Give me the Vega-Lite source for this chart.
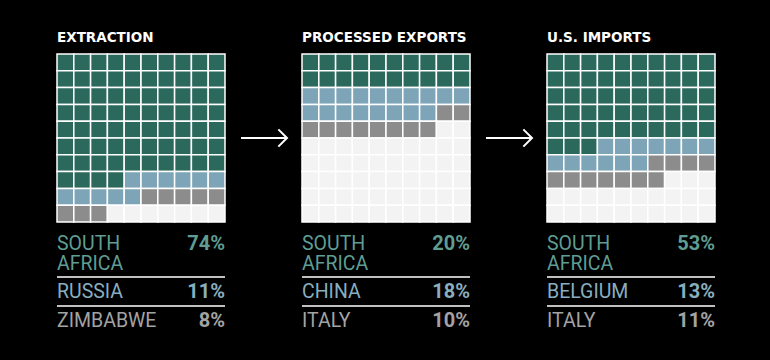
{
  "$schema": "https://vega.github.io/schema/vega-lite/v6.json",
  "background": "#000000",
  "padding": {"left": 56, "top": 30, "right": 56, "bottom": 26},
  "bounds": "flush",
  "datasets": {
    "panels": [
      {"p": 1, "title": "EXTRACTION"},
      {"p": 2, "title": "PROCESSED EXPORTS"},
      {"p": 3, "title": "U.S. IMPORTS"}
    ],
    "main": [
      {"p":1,"rank":1,"label":"SOUTH AFRICA","v":0.74,"g":1},
      {"p":1,"rank":2,"label":"RUSSIA","v":0.11,"g":2},
      {"p":1,"rank":3,"label":"ZIMBABWE","v":0.08,"g":3},
      {"p":2,"rank":1,"label":"SOUTH AFRICA","v":0.20,"g":1},
      {"p":2,"rank":2,"label":"CHINA","v":0.18,"g":2},
      {"p":2,"rank":3,"label":"ITALY","v":0.10,"g":3},
      {"p":3,"rank":1,"label":"SOUTH AFRICA","v":0.53,"g":1},
      {"p":3,"rank":2,"label":"BELGIUM","v":0.13,"g":2},
      {"p":3,"rank":3,"label":"ITALY","v":0.11,"g":3},
      {"p":1,"i":0,"g":1},{"p":1,"i":1,"g":1},{"p":1,"i":2,"g":1},{"p":1,"i":3,"g":1},{"p":1,"i":4,"g":1},{"p":1,"i":5,"g":1},{"p":1,"i":6,"g":1},{"p":1,"i":7,"g":1},{"p":1,"i":8,"g":1},{"p":1,"i":9,"g":1},
      {"p":1,"i":10,"g":1},{"p":1,"i":11,"g":1},{"p":1,"i":12,"g":1},{"p":1,"i":13,"g":1},{"p":1,"i":14,"g":1},{"p":1,"i":15,"g":1},{"p":1,"i":16,"g":1},{"p":1,"i":17,"g":1},{"p":1,"i":18,"g":1},{"p":1,"i":19,"g":1},
      {"p":1,"i":20,"g":1},{"p":1,"i":21,"g":1},{"p":1,"i":22,"g":1},{"p":1,"i":23,"g":1},{"p":1,"i":24,"g":1},{"p":1,"i":25,"g":1},{"p":1,"i":26,"g":1},{"p":1,"i":27,"g":1},{"p":1,"i":28,"g":1},{"p":1,"i":29,"g":1},
      {"p":1,"i":30,"g":1},{"p":1,"i":31,"g":1},{"p":1,"i":32,"g":1},{"p":1,"i":33,"g":1},{"p":1,"i":34,"g":1},{"p":1,"i":35,"g":1},{"p":1,"i":36,"g":1},{"p":1,"i":37,"g":1},{"p":1,"i":38,"g":1},{"p":1,"i":39,"g":1},
      {"p":1,"i":40,"g":1},{"p":1,"i":41,"g":1},{"p":1,"i":42,"g":1},{"p":1,"i":43,"g":1},{"p":1,"i":44,"g":1},{"p":1,"i":45,"g":1},{"p":1,"i":46,"g":1},{"p":1,"i":47,"g":1},{"p":1,"i":48,"g":1},{"p":1,"i":49,"g":1},
      {"p":1,"i":50,"g":1},{"p":1,"i":51,"g":1},{"p":1,"i":52,"g":1},{"p":1,"i":53,"g":1},{"p":1,"i":54,"g":1},{"p":1,"i":55,"g":1},{"p":1,"i":56,"g":1},{"p":1,"i":57,"g":1},{"p":1,"i":58,"g":1},{"p":1,"i":59,"g":1},
      {"p":1,"i":60,"g":1},{"p":1,"i":61,"g":1},{"p":1,"i":62,"g":1},{"p":1,"i":63,"g":1},{"p":1,"i":64,"g":1},{"p":1,"i":65,"g":1},{"p":1,"i":66,"g":1},{"p":1,"i":67,"g":1},{"p":1,"i":68,"g":1},{"p":1,"i":69,"g":1},
      {"p":1,"i":70,"g":1},{"p":1,"i":71,"g":1},{"p":1,"i":72,"g":1},{"p":1,"i":73,"g":1},{"p":1,"i":74,"g":2},{"p":1,"i":75,"g":2},{"p":1,"i":76,"g":2},{"p":1,"i":77,"g":2},{"p":1,"i":78,"g":2},{"p":1,"i":79,"g":2},
      {"p":1,"i":80,"g":2},{"p":1,"i":81,"g":2},{"p":1,"i":82,"g":2},{"p":1,"i":83,"g":2},{"p":1,"i":84,"g":2},{"p":1,"i":85,"g":3},{"p":1,"i":86,"g":3},{"p":1,"i":87,"g":3},{"p":1,"i":88,"g":3},{"p":1,"i":89,"g":3},
      {"p":1,"i":90,"g":3},{"p":1,"i":91,"g":3},{"p":1,"i":92,"g":3},{"p":1,"i":93,"g":4},{"p":1,"i":94,"g":4},{"p":1,"i":95,"g":4},{"p":1,"i":96,"g":4},{"p":1,"i":97,"g":4},{"p":1,"i":98,"g":4},{"p":1,"i":99,"g":4},
      {"p":2,"i":0,"g":1},{"p":2,"i":1,"g":1},{"p":2,"i":2,"g":1},{"p":2,"i":3,"g":1},{"p":2,"i":4,"g":1},{"p":2,"i":5,"g":1},{"p":2,"i":6,"g":1},{"p":2,"i":7,"g":1},{"p":2,"i":8,"g":1},{"p":2,"i":9,"g":1},
      {"p":2,"i":10,"g":1},{"p":2,"i":11,"g":1},{"p":2,"i":12,"g":1},{"p":2,"i":13,"g":1},{"p":2,"i":14,"g":1},{"p":2,"i":15,"g":1},{"p":2,"i":16,"g":1},{"p":2,"i":17,"g":1},{"p":2,"i":18,"g":1},{"p":2,"i":19,"g":1},
      {"p":2,"i":20,"g":2},{"p":2,"i":21,"g":2},{"p":2,"i":22,"g":2},{"p":2,"i":23,"g":2},{"p":2,"i":24,"g":2},{"p":2,"i":25,"g":2},{"p":2,"i":26,"g":2},{"p":2,"i":27,"g":2},{"p":2,"i":28,"g":2},{"p":2,"i":29,"g":2},
      {"p":2,"i":30,"g":2},{"p":2,"i":31,"g":2},{"p":2,"i":32,"g":2},{"p":2,"i":33,"g":2},{"p":2,"i":34,"g":2},{"p":2,"i":35,"g":2},{"p":2,"i":36,"g":2},{"p":2,"i":37,"g":2},{"p":2,"i":38,"g":3},{"p":2,"i":39,"g":3},
      {"p":2,"i":40,"g":3},{"p":2,"i":41,"g":3},{"p":2,"i":42,"g":3},{"p":2,"i":43,"g":3},{"p":2,"i":44,"g":3},{"p":2,"i":45,"g":3},{"p":2,"i":46,"g":3},{"p":2,"i":47,"g":3},{"p":2,"i":48,"g":4},{"p":2,"i":49,"g":4},
      {"p":2,"i":50,"g":4},{"p":2,"i":51,"g":4},{"p":2,"i":52,"g":4},{"p":2,"i":53,"g":4},{"p":2,"i":54,"g":4},{"p":2,"i":55,"g":4},{"p":2,"i":56,"g":4},{"p":2,"i":57,"g":4},{"p":2,"i":58,"g":4},{"p":2,"i":59,"g":4},
      {"p":2,"i":60,"g":4},{"p":2,"i":61,"g":4},{"p":2,"i":62,"g":4},{"p":2,"i":63,"g":4},{"p":2,"i":64,"g":4},{"p":2,"i":65,"g":4},{"p":2,"i":66,"g":4},{"p":2,"i":67,"g":4},{"p":2,"i":68,"g":4},{"p":2,"i":69,"g":4},
      {"p":2,"i":70,"g":4},{"p":2,"i":71,"g":4},{"p":2,"i":72,"g":4},{"p":2,"i":73,"g":4},{"p":2,"i":74,"g":4},{"p":2,"i":75,"g":4},{"p":2,"i":76,"g":4},{"p":2,"i":77,"g":4},{"p":2,"i":78,"g":4},{"p":2,"i":79,"g":4},
      {"p":2,"i":80,"g":4},{"p":2,"i":81,"g":4},{"p":2,"i":82,"g":4},{"p":2,"i":83,"g":4},{"p":2,"i":84,"g":4},{"p":2,"i":85,"g":4},{"p":2,"i":86,"g":4},{"p":2,"i":87,"g":4},{"p":2,"i":88,"g":4},{"p":2,"i":89,"g":4},
      {"p":2,"i":90,"g":4},{"p":2,"i":91,"g":4},{"p":2,"i":92,"g":4},{"p":2,"i":93,"g":4},{"p":2,"i":94,"g":4},{"p":2,"i":95,"g":4},{"p":2,"i":96,"g":4},{"p":2,"i":97,"g":4},{"p":2,"i":98,"g":4},{"p":2,"i":99,"g":4},
      {"p":3,"i":0,"g":1},{"p":3,"i":1,"g":1},{"p":3,"i":2,"g":1},{"p":3,"i":3,"g":1},{"p":3,"i":4,"g":1},{"p":3,"i":5,"g":1},{"p":3,"i":6,"g":1},{"p":3,"i":7,"g":1},{"p":3,"i":8,"g":1},{"p":3,"i":9,"g":1},
      {"p":3,"i":10,"g":1},{"p":3,"i":11,"g":1},{"p":3,"i":12,"g":1},{"p":3,"i":13,"g":1},{"p":3,"i":14,"g":1},{"p":3,"i":15,"g":1},{"p":3,"i":16,"g":1},{"p":3,"i":17,"g":1},{"p":3,"i":18,"g":1},{"p":3,"i":19,"g":1},
      {"p":3,"i":20,"g":1},{"p":3,"i":21,"g":1},{"p":3,"i":22,"g":1},{"p":3,"i":23,"g":1},{"p":3,"i":24,"g":1},{"p":3,"i":25,"g":1},{"p":3,"i":26,"g":1},{"p":3,"i":27,"g":1},{"p":3,"i":28,"g":1},{"p":3,"i":29,"g":1},
      {"p":3,"i":30,"g":1},{"p":3,"i":31,"g":1},{"p":3,"i":32,"g":1},{"p":3,"i":33,"g":1},{"p":3,"i":34,"g":1},{"p":3,"i":35,"g":1},{"p":3,"i":36,"g":1},{"p":3,"i":37,"g":1},{"p":3,"i":38,"g":1},{"p":3,"i":39,"g":1},
      {"p":3,"i":40,"g":1},{"p":3,"i":41,"g":1},{"p":3,"i":42,"g":1},{"p":3,"i":43,"g":1},{"p":3,"i":44,"g":1},{"p":3,"i":45,"g":1},{"p":3,"i":46,"g":1},{"p":3,"i":47,"g":1},{"p":3,"i":48,"g":1},{"p":3,"i":49,"g":1},
      {"p":3,"i":50,"g":1},{"p":3,"i":51,"g":1},{"p":3,"i":52,"g":1},{"p":3,"i":53,"g":2},{"p":3,"i":54,"g":2},{"p":3,"i":55,"g":2},{"p":3,"i":56,"g":2},{"p":3,"i":57,"g":2},{"p":3,"i":58,"g":2},{"p":3,"i":59,"g":2},
      {"p":3,"i":60,"g":2},{"p":3,"i":61,"g":2},{"p":3,"i":62,"g":2},{"p":3,"i":63,"g":2},{"p":3,"i":64,"g":2},{"p":3,"i":65,"g":2},{"p":3,"i":66,"g":3},{"p":3,"i":67,"g":3},{"p":3,"i":68,"g":3},{"p":3,"i":69,"g":3},
      {"p":3,"i":70,"g":3},{"p":3,"i":71,"g":3},{"p":3,"i":72,"g":3},{"p":3,"i":73,"g":3},{"p":3,"i":74,"g":3},{"p":3,"i":75,"g":3},{"p":3,"i":76,"g":3},{"p":3,"i":77,"g":4},{"p":3,"i":78,"g":4},{"p":3,"i":79,"g":4},
      {"p":3,"i":80,"g":4},{"p":3,"i":81,"g":4},{"p":3,"i":82,"g":4},{"p":3,"i":83,"g":4},{"p":3,"i":84,"g":4},{"p":3,"i":85,"g":4},{"p":3,"i":86,"g":4},{"p":3,"i":87,"g":4},{"p":3,"i":88,"g":4},{"p":3,"i":89,"g":4},
      {"p":3,"i":90,"g":4},{"p":3,"i":91,"g":4},{"p":3,"i":92,"g":4},{"p":3,"i":93,"g":4},{"p":3,"i":94,"g":4},{"p":3,"i":95,"g":4},{"p":3,"i":96,"g":4},{"p":3,"i":97,"g":4},{"p":3,"i":98,"g":4},{"p":3,"i":99,"g":4}
    ]
  },
  "data": {"name": "main"},
  "transform": [
    {"lookup": "p", "from": {"data": {"name": "panels"}, "key": "p", "fields": ["title"]}}
  ],
  "facet": {
    "column": {
      "field": "title",
      "type": "nominal",
      "sort": ["EXTRACTION", "PROCESSED EXPORTS", "U.S. IMPORTS"],
      "title": null,
      "header": {
        "labelAnchor": "start",
        "labelFont": "DejaVu Sans",
        "labelFontWeight": "bold",
        "labelFontSize": 13.5,
        "labelColor": "#ffffff",
        "labelPadding": 10
      }
    }
  },
  "spacing": 77,
  "spec": {
    "width": 168,
    "height": 280,
    "layer": [
      {
        "transform": [
          {"filter": "isValid(datum.i)"},
          {"calculate": "datum.i % 10", "as": "k"},
          {"calculate": "floor(datum.i / 10)", "as": "r"}
        ],
        "mark": {"type": "rect", "stroke": "#ffffff", "strokeWidth": 1.5},
        "encoding": {
          "x": {"field": "k", "type": "ordinal", "axis": null, "scale": {"paddingInner": 0, "paddingOuter": 0}},
          "y": {"field": "r", "type": "ordinal", "axis": null, "scale": {"range": [0, 168], "paddingInner": 0, "paddingOuter": 0}},
          "color": {
            "field": "g", "type": "nominal", "legend": null,
            "scale": {"domain": [1, 2, 3, 4], "range": ["#2c695d", "#7ea5b7", "#8c8c8c", "#f3f3f3"]}
          }
        }
      },
      {
        "transform": [{"filter": "datum.rank >= 2"}],
        "mark": {"type": "rule", "color": "#ffffff", "strokeWidth": 1.5, "yOffset": -21},
        "encoding": {
          "y": {"field": "rank", "type": "quantitative", "axis": null, "scale": {"domain": [1, 2, 3], "range": [196, 244, 273]}}
        }
      },
      {
        "transform": [{"filter": "isValid(datum.rank)"}],
        "mark": {"type": "text", "align": "left", "baseline": "alphabetic", "font": "Roboto", "fontSize": 19.5, "lineHeight": 19.5, "lineBreak": " "},
        "encoding": {
          "x": {"datum": 0, "type": "ordinal", "bandPosition": 0},
          "y": {"field": "rank", "type": "quantitative", "axis": null, "scale": {"domain": [1, 2, 3], "range": [196, 244, 273]}},
          "text": {"field": "label"},
          "fill": {"field": "g", "type": "nominal", "legend": null, "scale": {"domain": [1, 2, 3], "range": ["#5f9d92", "#88aebf", "#a3a3a3"]}}
        }
      },
      {
        "transform": [{"filter": "isValid(datum.rank)"}],
        "mark": {"type": "text", "align": "right", "baseline": "alphabetic", "font": "Roboto", "fontWeight": "bold", "fontSize": 20},
        "encoding": {
          "x": {"datum": 9, "type": "ordinal", "bandPosition": 1},
          "y": {"field": "rank", "type": "quantitative", "axis": null, "scale": {"domain": [1, 2, 3], "range": [196, 244, 273]}},
          "text": {"field": "v", "format": ".0%"},
          "fill": {"field": "g", "type": "nominal", "legend": null, "scale": {"domain": [1, 2, 3], "range": ["#5f9d92", "#88aebf", "#a3a3a3"]}}
        }
      },
      {
        "transform": [{"filter": "datum.rank == 1 && datum.p < 3"}],
        "mark": {"type": "rule", "color": "#ffffff", "strokeWidth": 2, "xOffset": 16, "x2Offset": 62},
        "encoding": {
          "x": {"datum": 9, "type": "ordinal", "bandPosition": 1},
          "x2": {"datum": 9, "bandPosition": 1},
          "y": {"datum": 0.5, "type": "quantitative", "axis": null, "scale": {"domain": [0, 1], "range": [0, 168]}}
        }
      },
      {
        "transform": [{"filter": "datum.rank == 1 && datum.p < 3"}],
        "mark": {"type": "point", "shape": "M-1,-1L0,0L-1,1", "filled": false, "stroke": "#ffffff", "strokeWidth": 2, "size": 300, "opacity": 1, "xOffset": 62},
        "encoding": {
          "x": {"datum": 9, "type": "ordinal", "bandPosition": 1},
          "y": {"datum": 0.5, "type": "quantitative", "axis": null, "scale": {"domain": [0, 1], "range": [0, 168]}}
        }
      }
    ],
    "resolve": {"scale": {"y": "independent"}}
  },
  "config": {
    "view": {"stroke": null},
    "font": "Roboto"
  }
}
